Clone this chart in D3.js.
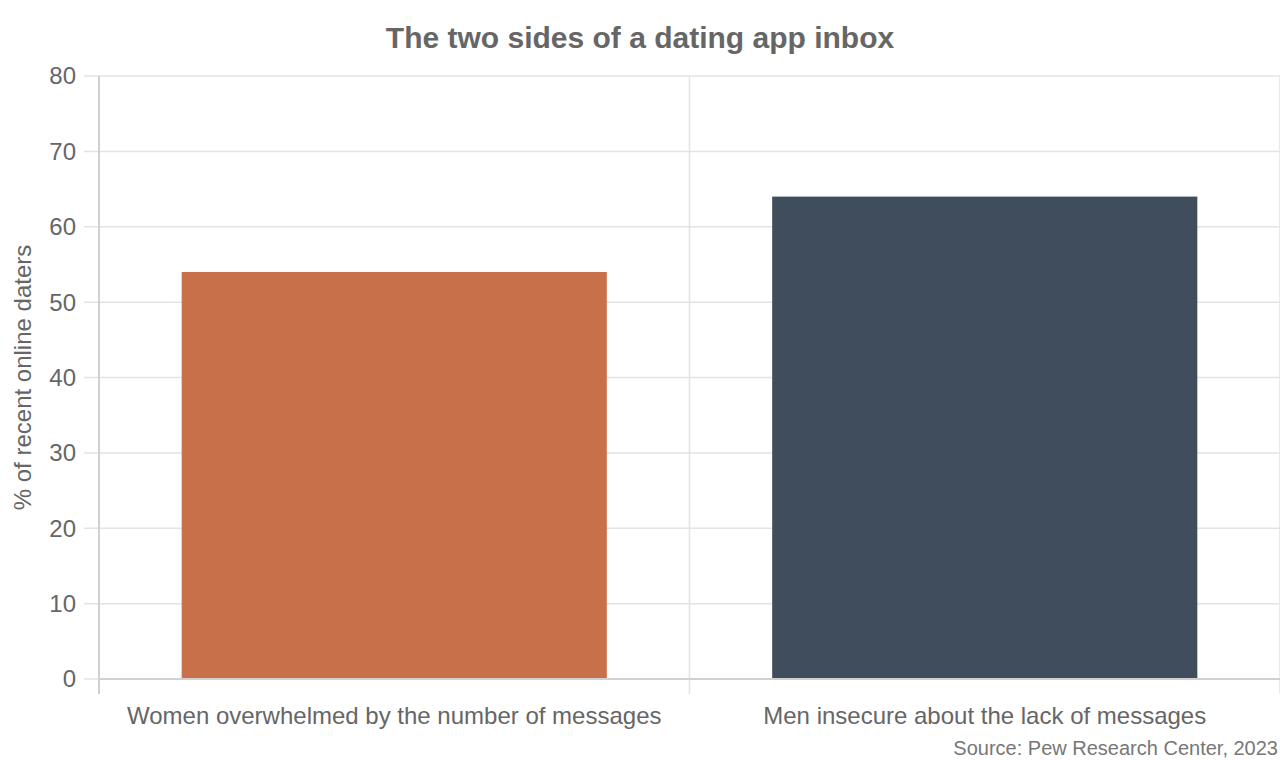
<script src="https://cdn.jsdelivr.net/npm/d3@7"></script>
<style>
  body { margin: 0; background: #fff; }
  svg { display: block; font-family: "Liberation Sans", Arial, sans-serif; }
</style>
<svg width="1280" height="760"></svg>
<script>
  const categories = [
    "Women overwhelmed by the number of messages",
    "Men insecure about the lack of messages"
  ];
  const values = [54, 64];
  const colors = ["#c8704a", "#3f4d5c"];
  const yTicks = [0, 10, 20, 30, 40, 50, 60, 70, 80];

  const svg = d3.select("svg");
  const margin = { top: 76, right: 0, bottom: 81, left: 99 };
  const width = 1280 - margin.left - margin.right;
  const height = 760 - margin.top - margin.bottom;

  const g = svg.append("g").attr("transform", `translate(${margin.left},${margin.top})`);

  const x = d3.scaleBand().domain(categories).range([0, width]).paddingInner(0.28).paddingOuter(0.14);
  const y = d3.scaleLinear().domain([0, 80]).range([height, 0]);

  // horizontal grid + y tick marks
  g.selectAll(".hgrid")
    .data(yTicks)
    .join("line")
    .attr("x1", -15)
    .attr("x2", width)
    .attr("y1", d => y(d))
    .attr("y2", d => y(d))
    .attr("stroke", "#e3e3e3")
    .attr("stroke-width", 1.5);

  // vertical category boundaries
  const bounds = [0, x.step(), width];
  g.selectAll(".vgrid")
    .data(bounds)
    .join("line")
    .attr("x1", d => d)
    .attr("x2", d => d)
    .attr("y1", 0)
    .attr("y2", height + 15)
    .attr("stroke", "#e3e3e3")
    .attr("stroke-width", 1.5);

  // bars
  g.selectAll("rect")
    .data(categories)
    .join("rect")
    .attr("x", d => x(d))
    .attr("width", x.bandwidth())
    .attr("y", (d, i) => y(values[i]))
    .attr("height", (d, i) => height - y(values[i]))
    .attr("fill", (d, i) => colors[i]);

  // axis lines
  g.append("line").attr("x1", 0).attr("x2", 0).attr("y1", 0).attr("y2", height + 15)
    .attr("stroke", "#d0d0d0").attr("stroke-width", 2);
  g.append("line").attr("x1", 0).attr("x2", width).attr("y1", height).attr("y2", height)
    .attr("stroke", "#d0d0d0").attr("stroke-width", 2);

  // y tick labels
  g.selectAll(".ylab")
    .data(yTicks)
    .join("text")
    .attr("x", -23)
    .attr("y", d => y(d))
    .attr("dy", "0.35em")
    .attr("text-anchor", "end")
    .attr("fill", "#666")
    .attr("font-size", 24)
    .text(d => d);

  // category labels
  g.selectAll(".xlab")
    .data(categories)
    .join("text")
    .attr("x", d => x(d) + x.bandwidth() / 2)
    .attr("y", height + 45)
    .attr("text-anchor", "middle")
    .attr("fill", "#666")
    .attr("font-size", 24)
    .text(d => d);

  // y axis title
  svg.append("text")
    .attr("transform", `translate(31,${margin.top + height / 2}) rotate(-90)`)
    .attr("text-anchor", "middle")
    .attr("fill", "#666")
    .attr("font-size", 24)
    .text("% of recent online daters");

  // title
  svg.append("text")
    .attr("x", 640)
    .attr("y", 48)
    .attr("text-anchor", "middle")
    .attr("fill", "#666")
    .attr("font-size", 30)
    .attr("font-weight", "bold")
    .text("The two sides of a dating app inbox");

  // source
  svg.append("text")
    .attr("x", 1278)
    .attr("y", 755)
    .attr("text-anchor", "end")
    .attr("fill", "#777")
    .attr("font-size", 20)
    .text("Source: Pew Research Center, 2023");
</script>
